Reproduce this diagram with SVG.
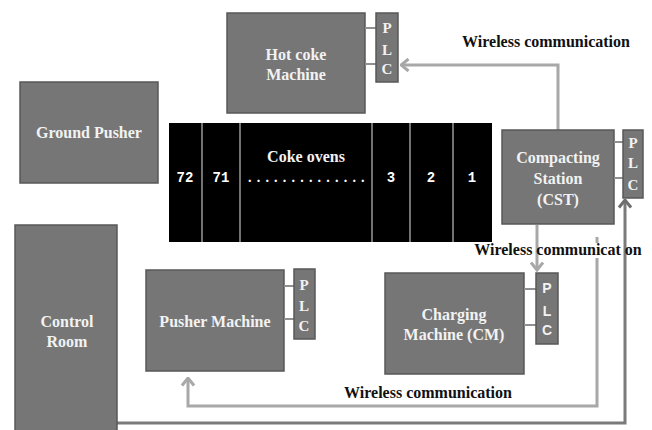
<svg xmlns="http://www.w3.org/2000/svg" width="652" height="430" viewBox="0 0 652 430">
<defs>
<style>
.box{fill:#767676;stroke:#585858;stroke-width:1.5}
.plc{fill:#767676;stroke:#585858;stroke-width:1.5}
.lbl{font-family:"Liberation Serif",serif;font-weight:bold;font-size:16px;fill:#f2f2f2;text-anchor:middle}
.plct{font-family:"Liberation Serif",serif;font-weight:bold;font-size:15px;fill:#f2f2f2;text-anchor:middle}
.plcs{font-family:"Liberation Sans",sans-serif;font-weight:bold;font-size:14px;fill:#f2f2f2;text-anchor:middle}
.wl{font-family:"Liberation Serif",serif;font-weight:bold;font-size:16px;fill:#111;text-anchor:middle}
.num{font-family:"Liberation Mono",monospace;font-weight:bold;font-size:14px;fill:#fff;text-anchor:middle}
.tie{stroke:#909090;stroke-width:2;fill:none}
.cw{stroke:#a8a8a8;stroke-width:3;fill:none}
.cd{stroke:#7a7a7a;stroke-width:3;fill:none}
</style>
<marker id="al" markerUnits="userSpaceOnUse" viewBox="0 0 10 14" refX="8.5" refY="7" markerWidth="10" markerHeight="14" orient="auto">
<path d="M1,1 L8.5,7 L1,13" fill="none" stroke="#a8a8a8" stroke-width="3"/>
</marker>
<marker id="ad" markerUnits="userSpaceOnUse" viewBox="0 0 10 14" refX="8.5" refY="7" markerWidth="10" markerHeight="14" orient="auto">
<path d="M1,1 L8.5,7 L1,13" fill="none" stroke="#6e6e6e" stroke-width="3"/>
</marker>
</defs>
<rect width="652" height="430" fill="#fff"/>

<g id="connectors">
<path class="cw" d="M558,130 V65 H401" marker-end="url(#al)"/>
<path class="cw" d="M537,225 V270" marker-end="url(#al)"/>
<path class="cw" d="M597,237 V243"/>
<path class="cw" d="M597,258 V406 H188 V378" marker-end="url(#al)"/>
<path class="cd" d="M117,423 H625 V200" marker-end="url(#ad)"/>
</g>

<g id="hot-coke-machine">
<rect class="box" x="227" y="13" width="138" height="100"/>
<text class="lbl" x="296" y="60">Hot coke</text>
<text class="lbl" x="296" y="80">Machine</text>
<line class="tie" x1="365" y1="28" x2="376" y2="28"/>
<line class="tie" x1="365" y1="64" x2="376" y2="64"/>
<rect class="plc" x="376" y="13" width="22" height="69"/>
<text class="plct" x="387" y="33">P</text>
<text class="plct" x="387" y="55">L</text>
<text class="plct" x="387" y="74">C</text>
</g>

<g id="ground-pusher">
<rect class="box" x="20" y="82" width="138" height="101"/>
<text class="lbl" x="89" y="138">Ground Pusher</text>
</g>

<g id="coke-ovens">
<rect x="169" y="123" width="323" height="119" fill="#000"/>
<g stroke="#999" stroke-width="1.5">
<line x1="202" y1="123" x2="202" y2="242"/>
<line x1="240" y1="123" x2="240" y2="242"/>
<line x1="372" y1="123" x2="372" y2="242"/>
<line x1="410" y1="123" x2="410" y2="242"/>
<line x1="453" y1="123" x2="453" y2="242"/>
</g>
<text class="num" x="185" y="182">72</text>
<text class="num" x="221" y="182">71</text>
<text class="lbl" x="306" y="162" fill="#fff">Coke ovens</text>
<text x="248" y="182" font-family="Liberation Serif,serif" font-weight="bold" font-size="14" fill="#fff" letter-spacing="5.2">..............</text>
<text class="num" x="391" y="182">3</text>
<text class="num" x="431" y="182">2</text>
<text class="num" x="472" y="182">1</text>
</g>

<g id="compacting-station">
<rect class="box" x="502" y="130" width="112" height="94"/>
<text class="lbl" x="558" y="163">Compacting</text>
<text class="lbl" x="558" y="184">Station</text>
<text class="lbl" x="558" y="205">(CST)</text>
<line class="tie" x1="614" y1="142" x2="623" y2="142"/>
<line class="tie" x1="614" y1="178" x2="623" y2="178"/>
<rect class="plc" x="623" y="130" width="20" height="68"/>
<text class="plct" x="633" y="148">P</text>
<text class="plct" x="633" y="168">L</text>
<text class="plct" x="633" y="190">C</text>
</g>

<g id="control-room">
<rect class="box" x="15" y="225" width="102" height="210"/>
<text class="lbl" x="67" y="327">Control</text>
<text class="lbl" x="67" y="347">Room</text>
</g>

<g id="pusher-machine">
<rect class="box" x="146" y="270" width="138" height="101"/>
<text class="lbl" x="215" y="327">Pusher Machine</text>
<line class="tie" x1="284" y1="286" x2="294" y2="286"/>
<line class="tie" x1="284" y1="319" x2="294" y2="319"/>
<rect class="plc" x="294" y="269" width="21" height="70"/>
<text class="plct" x="304" y="290">P</text>
<text class="plct" x="304" y="311">L</text>
<text class="plct" x="304" y="331">C</text>
</g>

<g id="charging-machine">
<rect class="box" x="385" y="273" width="139" height="101"/>
<text class="lbl" x="454" y="320">Charging</text>
<text class="lbl" x="454" y="340">Machine (CM)</text>
<line class="tie" x1="524" y1="289" x2="536" y2="289"/>
<line class="tie" x1="524" y1="325" x2="536" y2="325"/>
<rect class="plc" x="536" y="273" width="22" height="71"/>
<text class="plcs" x="547" y="293">P</text>
<text class="plcs" x="547" y="316">L</text>
<text class="plcs" x="547" y="335">C</text>
</g>

<g id="labels">
<text class="wl" x="546" y="47">Wireless communication</text>
<text class="wl" x="558" y="255">Wireless communicat on</text>
<text class="wl" x="428" y="398">Wireless communication</text>
</g>
</svg>
